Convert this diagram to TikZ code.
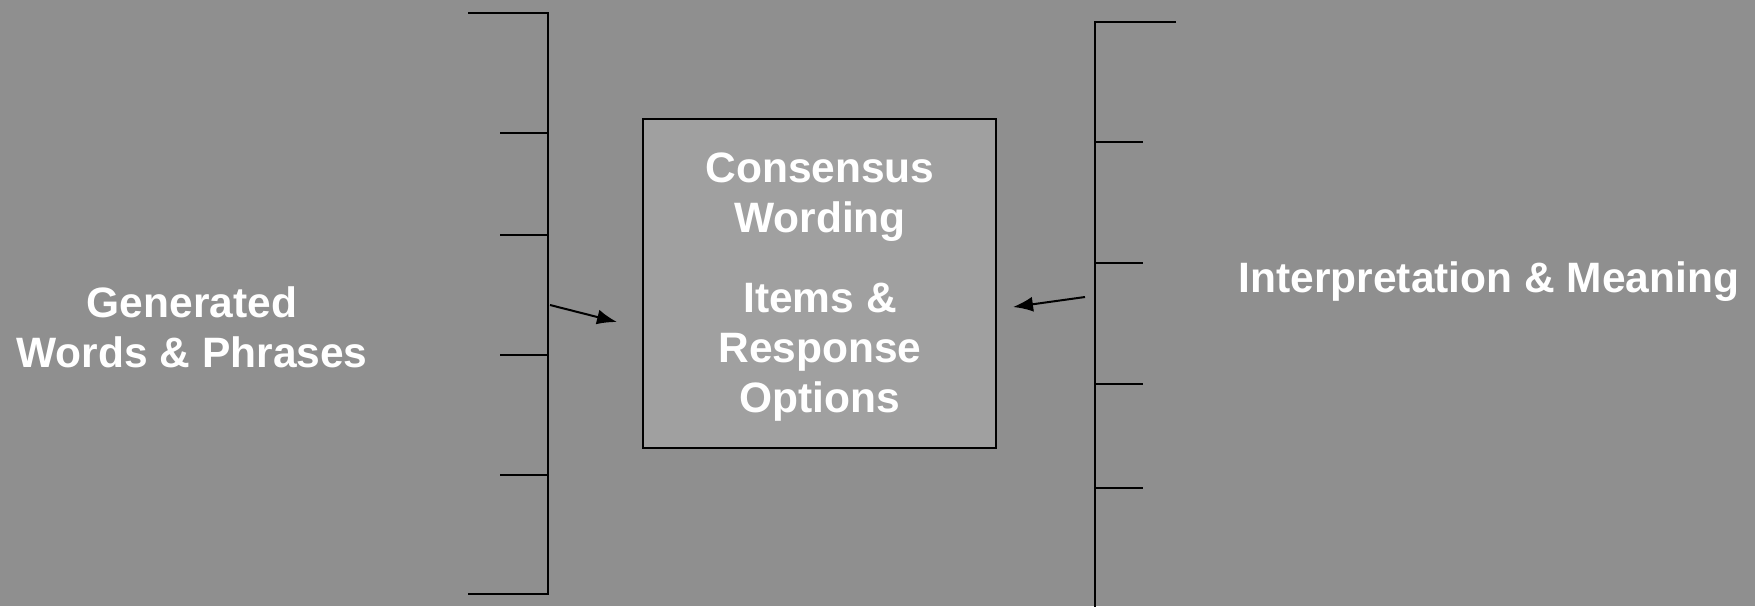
\documentclass[tikz,border=0pt]{standalone}
\usepackage{fontspec}
\setmainfont{Liberation Sans}
\usetikzlibrary{arrows.meta}
\definecolor{bggray}{RGB}{143,143,143}
\definecolor{boxgray}{RGB}{160,160,160}
\tikzset{
  lbl/.style={text=white,font=\bfseries\fontsize{42.5}{50}\selectfont,align=center},
  brk/.style={draw=black,line width=1.8pt},
  arr/.style={-{Latex[length=20pt,width=15pt]},line width=2pt}
}
\begin{document}
\begin{tikzpicture}[x=1pt,y=-1pt]

	\fill[bggray] (0,0) rectangle (1755,606);
	\useasboundingbox (0,0) rectangle (1755,606);

	% left bracket
	\draw[brk] (468,13) -- (548,13) -- (548,594) -- (468,594);
	\draw[brk] (500,133) -- (548,133);
	\draw[brk] (500,235) -- (548,235);
	\draw[brk] (500,355) -- (548,355);
	\draw[brk] (500,475) -- (548,475);

	% right bracket
	\draw[brk] (1176,22) -- (1095,22) -- (1095,610);
	\draw[brk] (1095,142) -- (1143,142);
	\draw[brk] (1095,263) -- (1143,263);
	\draw[brk] (1095,384) -- (1143,384);
	\draw[brk] (1095,488) -- (1143,488);

	\node[shape=rectangle,draw=black,fill=boxgray,line width=1.6pt,inner sep=0pt,
	      minimum width=353pt,minimum height=329pt] (box) at (819.5,283.5) {};

	\node[lbl] (gen)    at (192,327)  {Generated\\Words \& Phrases};
	\node[lbl] (cons)   at (820,197)  {Consensus\\Wording};
	\node[lbl] (items)  at (820,352)  {Items \&\\Response\\Options};
	\node[lbl] (interp) at (1489,282) {Interpretation \& Meaning};

	\coordinate (gs) at (550,305);
	\coordinate (ge) at (617,322);
	\coordinate (is) at (1085,297);
	\coordinate (ie) at (1013,307);

	\draw[arr] (gs) -- (ge);
	\draw[arr] (is) -- (ie);

\end{tikzpicture}
\end{document}
